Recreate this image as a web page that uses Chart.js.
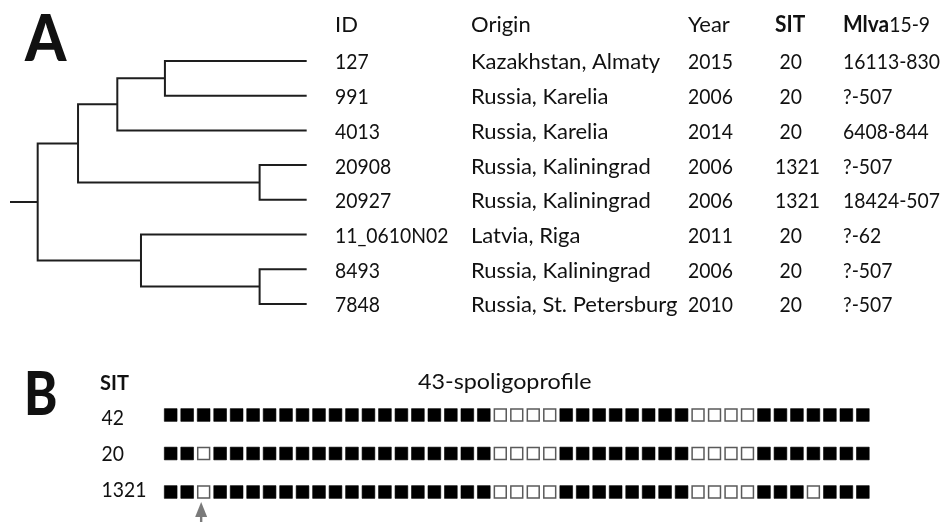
<!DOCTYPE html>
<html>
<head>
<meta charset="utf-8">
<script src="https://cdn.jsdelivr.net/npm/chart.js@4.4.1/dist/chart.umd.min.js"></script>
<style>
  html, body { margin: 0; padding: 0; background: #ffffff; }
  #wrap { width: 944px; height: 522px; }
</style>
</head>
<body>
<div id="wrap"><canvas id="c" width="944" height="522"></canvas></div>
<script>
// ---------------- DATA ----------------
const tableHeaders = ['ID', 'Origin', 'Year', 'SIT', 'Mlva15-9'];
const ids = ['127', '991', '4013', '20908', '20927', '11_0610N02', '8493', '7848'];
const origins = ['Kazakhstan, Almaty', 'Russia, Karelia', 'Russia, Karelia', 'Russia, Kaliningrad',
                 'Russia, Kaliningrad', 'Latvia, Riga', 'Russia, Kaliningrad', 'Russia, St. Petersburg'];
const years = [2015, 2006, 2014, 2006, 2006, 2011, 2006, 2010];
const sits = [20, 20, 20, 1321, 1321, 20, 20, 20];
const mlva = ['16113-830', '?-507', '6408-844', '?-507', '18424-507', '?-62', '?-507', '?-507'];

// tree topology: leaves are indices into ids; depth in relative units (leaf tips = 1)
const treeNodes = [
  { name: 'root', depth: 0.000, children: ['n1', 'n5'] },
  { name: 'n1',   depth: 0.150, children: ['n2', 'n4'] },
  { name: 'n2',   depth: 0.296, children: ['n3', 2] },
  { name: 'n3',   depth: 0.473, children: [0, 1] },
  { name: 'n4',   depth: 0.825, children: [3, 4] },
  { name: 'n5',   depth: 0.384, children: [5, 'n6'] },
  { name: 'n6',   depth: 0.825, children: [6, 7] }
];
const leafDepth = 1.0;
const rootStubDepth = -0.103;

// panel B: 43-spacer spoligoprofiles
const spoligoSITs = ['42', '20', '1321'];
const spoligoProfiles = [
  '1111111111111111111100001111111100001111111',
  '1101111111111111111100001111111100001111111',
  '1101111111111111111100001111111100001110111'
];
const markedSpacer = 3;

// ---------------- BUILD ----------------
const nodeMap = {};
treeNodes.forEach(n => nodeMap[n.name] = n);
function nodeY(c) {
  if (typeof c === 'number') return c;
  const n = nodeMap[c];
  return (nodeY(n.children[0]) + nodeY(n.children[1])) / 2;
}
function nodeDepth(c) {
  return typeof c === 'number' ? leafDepth : nodeMap[c].depth;
}
const lineStyle = { showLine: true, borderColor: '#1e1e1e', borderWidth: 2, pointRadius: 0,
                    tension: 0, xAxisID: 'xt', yAxisID: 'yt', fill: false };
const datasets = [];
treeNodes.forEach(n => {
  const [a, b] = n.children;
  datasets.push(Object.assign({
    label: n.name,
    data: [
      { x: nodeDepth(a), y: nodeY(a) },
      { x: n.depth, y: nodeY(a) },
      { x: n.depth, y: nodeY(b) },
      { x: nodeDepth(b), y: nodeY(b) }
    ]
  }, lineStyle));
});
datasets.push(Object.assign({
  label: 'stub',
  data: [{ x: rootStubDepth, y: nodeY('root') }, { x: 0, y: nodeY('root') }]
}, lineStyle));

const filled = [], empty = [];
spoligoProfiles.forEach((p, r) => {
  p.split('').forEach((b, i) => {
    (b === '1' ? filled : empty).push({ x: i + 1, y: r });
  });
});
datasets.push({ label: 'present', data: filled, backgroundColor: '#000000',
  borderColor: '#000000', borderWidth: 0.6, pointRadius: 9.0, pointHoverRadius: 9.0,
  showLine: false, pointStyle: 'rect', xAxisID: 'xs', yAxisID: 'ys' });
datasets.push({ label: 'absent', data: empty, backgroundColor: '#ffffff',
  borderColor: '#5a5a5a', borderWidth: 1.5, pointRadius: 8.4, pointHoverRadius: 8.4,
  showLine: false, pointStyle: 'rect', xAxisID: 'xs', yAxisID: 'ys' });

const FONT = 'Lato, "Open Sans", sans-serif';
const DIGIT_SQUEEZE = 0.88;

function txt(ctx, s, x, y, sx) {
  ctx.save();
  ctx.translate(x, y);
  ctx.scale(sx || 1, 1);
  ctx.fillText(s, 0, 0);
  ctx.restore();
}
function isNumeric(s) {
  const d = (s.match(/[0-9]/g) || []).length;
  return d >= s.length * 0.5;
}
function cell(ctx, s, x, y) {
  s = String(s);
  txt(ctx, s, x, y, isNumeric(s) ? DIGIT_SQUEEZE : 1);
}

const textPlugin = {
  id: 'texts',
  beforeDraw(chart) {
    const ctx = chart.ctx;
    ctx.save();
    ctx.fillStyle = '#ffffff';
    ctx.fillRect(0, 0, chart.width, chart.height);
    ctx.restore();
  },
  afterDraw(chart) {
    const ctx = chart.ctx;
    const yt = chart.scales.yt, xs = chart.scales.xs, ys = chart.scales.ys;
    ctx.save();
    ctx.fillStyle = '#111111';
    ctx.textBaseline = 'alphabetic';
    ctx.textAlign = 'left';

    // panel letters
    ctx.font = '900 64px ' + FONT;
    txt(ctx, 'A', 25, 61, 0.92);
    ctx.font = '900 60px ' + FONT;
    txt(ctx, 'B', 24, 415, 0.84);

    // table headers
    const colX = [335, 471, 688, 775, 843];
    const headBase = 31.5;
    ctx.font = '22px ' + FONT;
    ctx.fillText(tableHeaders[0], colX[0], headBase);
    ctx.fillText(tableHeaders[1], colX[1], headBase);
    ctx.fillText(tableHeaders[2], colX[2], headBase);
    ctx.font = 'bold 22px ' + FONT;
    txt(ctx, tableHeaders[3], colX[3], headBase, 0.95);
    const m = tableHeaders[4].match(/^([A-Za-z]+)(.*)$/);
    txt(ctx, m[1], colX[4], headBase, 0.95);
    const w = ctx.measureText(m[1]).width * 0.95;
    ctx.font = '22px ' + FONT;
    cell(ctx, m[2], colX[4] + w, headBase);

    // table rows
    ids.forEach((id, i) => {
      const yb = yt.getPixelForValue(i) + 8.5;
      cell(ctx, id, colX[0], yb);
      cell(ctx, origins[i], colX[1], yb);
      cell(ctx, years[i], colX[2], yb);
      const s = String(sits[i]);
      cell(ctx, s, colX[3] + (s.length < 4 ? 4.5 : 0), yb);
      cell(ctx, mlva[i], colX[4], yb);
    });

    // panel B labels
    ctx.font = 'bold 20px ' + FONT;
    ctx.fillText('SIT', 100, 389.5);
    ctx.font = '22px ' + FONT;
    const title = '43-spoligoprofile';
    const tcx = (xs.getPixelForValue(1) + xs.getPixelForValue(43)) / 2 - 12;
    const tw = ctx.measureText(title).width * 1.06;
    txt(ctx, title, tcx - tw / 2, 389, 1.06);
    spoligoSITs.forEach((s, r) => {
      cell(ctx, s, 101.5, 424.5 + r * 36);
    });

    // arrow marking spacer 3
    const ax = xs.getPixelForValue(markedSpacer) - 2.5;
    const tip = ys.getPixelForValue(2) + 10;
    ctx.fillStyle = '#7a7a7a';
    ctx.beginPath();
    ctx.moveTo(ax, tip);
    ctx.lineTo(ax - 6, tip + 15);
    ctx.lineTo(ax + 6, tip + 15);
    ctx.closePath();
    ctx.fill();
    ctx.fillRect(ax - 1.2, tip + 14, 2.4, 12);
    ctx.restore();
  }
};

new Chart(document.getElementById('c'), {
  type: 'scatter',
  data: { datasets },
  options: {
    responsive: false,
    animation: false,
    events: [],
    layout: { padding: 0, autoPadding: false },
    plugins: { legend: { display: false }, tooltip: { enabled: false } },
    scales: {
      xt: { type: 'linear', position: 'bottom', display: false, min: -0.1401, max: 3.3692 },
      yt: { type: 'linear', position: 'left', display: false, reverse: true, min: -1.757, max: 13.282 },
      xs: { type: 'linear', position: 'bottom', display: false, min: -9.358, max: 47.924 },
      ys: { type: 'linear', position: 'left', display: false, reverse: true, min: -10.779, max: 2.779 }
    }
  },
  plugins: [textPlugin]
});
</script>
</body>
</html>
